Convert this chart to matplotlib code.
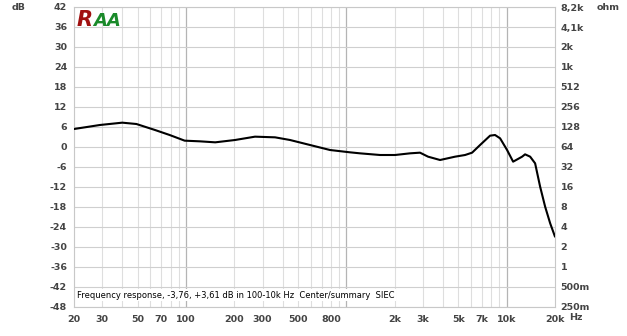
import numpy as np
import matplotlib.pyplot as plt
from matplotlib.ticker import FixedLocator, NullFormatter

# frequency response (Hz, dB)
freq = [20, 29, 40, 49, 64, 79, 98, 122, 152, 202, 269, 359, 445, 593, 790,
        1054, 1216, 1622, 2010, 2494, 2878, 3230, 3838, 4764, 5498, 6080,
        6820, 7872, 8454, 9092, 10048, 10960, 12474, 13012, 13996, 15032,
        16152, 17356, 18660, 20000]
spl = [5.4, 6.6, 7.3, 6.9, 5.1, 3.6, 1.9, 1.7, 1.4, 2.1, 3.1, 2.9, 2.1, 0.6, -0.9,
       -1.6, -1.9, -2.4, -2.4, -1.9, -1.7, -2.9, -3.9, -2.9, -2.4, -1.7,
       0.6, 3.4, 3.6, 2.6, -0.9, -4.4, -2.9, -2.2, -2.9, -4.9,
       -11.9, -17.9, -22.9, -26.9]

db_ticks = list(range(42, -49, -6))
ohm_labels = ['8,2k', '4,1k', '2k', '1k', '512', '256', '128', '64', '32', '16',
              '8', '4', '2', '1', '500m', '250m']
hz_ticks = [20, 30, 50, 70, 100, 200, 300, 500, 800, 2000, 3000, 5000, 7000, 10000, 20000]
hz_labels = ['20', '30', '50', '70', '100', '200', '300', '500', '800',
             '2k', '3k', '5k', '7k', '10k', '20k']

W, H = 627, 336
fig = plt.figure(figsize=(W / 100, H / 100), dpi=100)
ax = fig.add_axes([74 / W, 1 - 307 / H, (555 - 74) / W, 300 / H])

ax.set_xscale('log')
ax.set_xlim(20, 20000)
ax.set_ylim(-48, 42)

# grid
minor = [f * d for d in (10, 100, 1000) for f in range(2, 10)]
minor = [m for m in minor if 20 <= m <= 20000]
for m in minor:
    ax.axvline(m, color='#dedede', lw=0.8, zorder=1)
for m in (100, 1000, 10000):
    ax.axvline(m, color='#b4b4b4', lw=0.9, zorder=1)
for t in db_ticks:
    ax.axhline(t, color='#cfcfcf', lw=0.8, zorder=1)

for s in ax.spines.values():
    s.set_color('#c8c8c8')
    s.set_linewidth(0.8)

ax.plot(freq, spl, color='black', lw=1.5, zorder=3, solid_capstyle='round')

tick_kw = dict(fontsize=6.8, color='#444444', fontweight='bold')
ax.xaxis.set_major_locator(FixedLocator(hz_ticks))
ax.xaxis.set_minor_formatter(NullFormatter())
ax.set_xticks(hz_ticks)
ax.set_xticklabels(hz_labels, **tick_kw)
ax.set_yticks(db_ticks)
ax.set_yticklabels([str(t) for t in db_ticks], **tick_kw)
ax.tick_params(axis='both', which='both', length=0, pad=6)
ax.tick_params(axis='y', pad=5)

ax2 = ax.twinx()
ax2.set_ylim(-48, 42)
ax2.set_yticks(db_ticks)
ax2.set_yticklabels(ohm_labels, **tick_kw)
ax2.tick_params(length=0, pad=4)
for s in ax2.spines.values():
    s.set_visible(False)

fig.text(12 / W, 1 - 7 / H, 'dB', ha='left', va='center', **tick_kw)
fig.text(597 / W, 1 - 7 / H, 'ohm', ha='left', va='center', **tick_kw)
fig.text(576 / W, 1 - 318 / H, 'Hz', ha='center', va='center', **tick_kw)

ax.text(20.9, -44.5, 'Frequency response, -3,76, +3,61 dB in 100-10k Hz  Center/summary  SIEC',
        fontsize=6.0, color='black', ha='left', va='center', zorder=4,
        bbox=dict(facecolor='white', edgecolor='none', pad=1.0))

# logo
fig.text(77 / W, 1 - 20 / H, 'R', color='#a01010', fontsize=15, fontweight='bold',
         ha='left', va='center', fontstyle='italic')
fig.text(93 / W, 1 - 21 / H, 'AA', color='#1a8a2a', fontsize=13, fontweight='bold',
         ha='left', va='center', fontstyle='italic')

fig.savefig('out.png', dpi=100, facecolor='white')
